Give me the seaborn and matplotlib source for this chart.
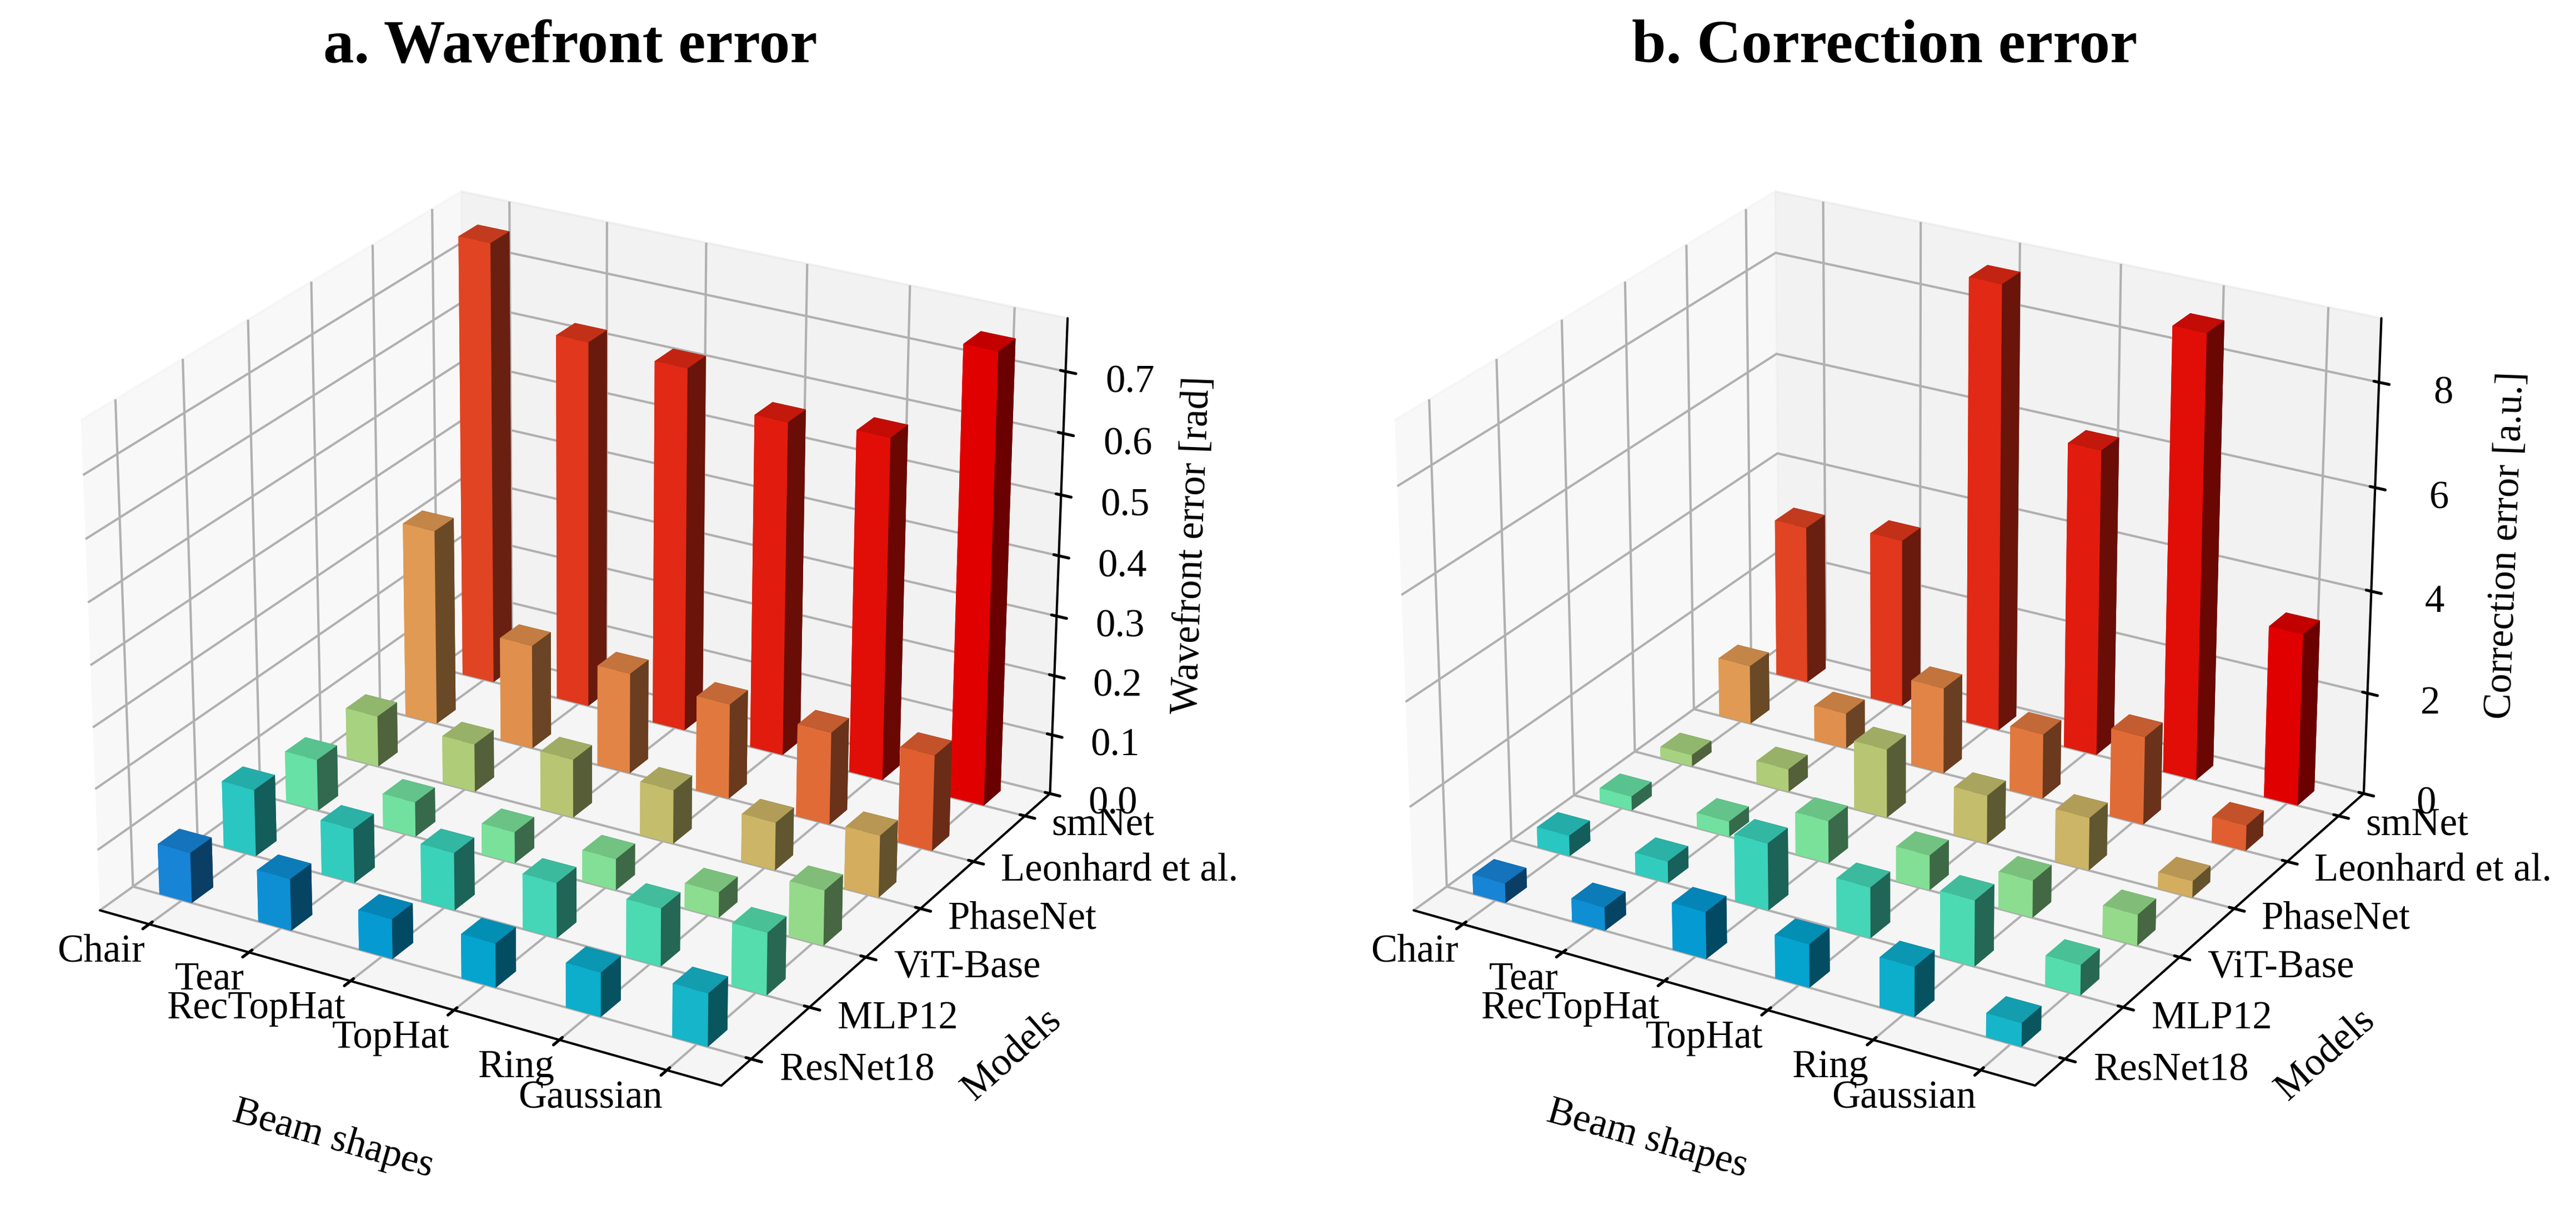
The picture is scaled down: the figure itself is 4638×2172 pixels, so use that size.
import numpy as np
import matplotlib
matplotlib.use('Agg')
import matplotlib.pyplot as plt
import seaborn as sns

sns.set_theme(style='ticks', rc={'axes.grid': True, 'grid.color': '#b0b0b0', 'grid.linewidth': 1.0,
                                 'axes.linewidth': 1.0, 'xtick.color': 'black', 'ytick.color': 'black',
                                 'text.color': 'black', 'axes.labelcolor': 'black', 'axes.edgecolor': 'black'})
plt.rcParams['font.family'] = ['Liberation Serif', 'DejaVu Serif']

shapes = ['Chair', 'Tear', 'RecTopHat', 'TopHat', 'Ring', 'Gaussian']
models = ['ResNet18', 'MLP12', 'ViT-Base', 'PhaseNet', 'Leonhard et al.', 'smNet']

# rows are models, columns are beam shapes
wavefront = [
    [.083, .085, .065, .072, .072, .086],
    [.111, .090, .095, .091, .095, .102],
    [.086, .058, .052, .052, .042, .091],
    [.086, .081, .098, .090, .080, .103],
    [.331, .176, .170, .160, .155, .160],
    [.749, .620, .613, .561, .573, .749],
]
correction = [
    [.38, .45, .90, .83, .95, .45],
    [.40, .42, 1.30, .98, 1.27, .58],
    [.28, .30, .83, .68, .72, .60],
    [.23, .45, 1.35, .95, 1.03, .32],
    [1.17, .70, 1.70, 1.28, 1.73, .50],
    [3.15, 3.35, 8.80, 6.03, 8.70, 3.38],
]
wave_ticks = [0, .1, .2, .3, .4, .5, .6, .7]
corr_ticks = [0, 2, 4, 6, 8]

cmap = sns.color_palette('rainbow', as_cmap=True)
FS = 17
BAR = 0.33


def draw_panel(fig, rect, values, zticks, zfmt, zlim, zlabel):
    ax = fig.add_axes(rect, projection='3d')
    ax.computed_zorder = False
    ax.set_box_aspect((4.15, 4.15, 3.12))
    vals = np.array(values)
    # draw far bars first so near bars cover them
    for j in range(len(models) - 1, -1, -1):
        for i in range(len(shapes)):
            col = cmap(0.2 + 0.14 * j + 0.02 * i)
            ax.bar3d(i - 0.23, j, 0, BAR, BAR, vals[j, i], color=col, edgecolor='none', linewidth=0)
    ax.set_xticks(np.arange(len(shapes)))
    ax.set_xticklabels(shapes, fontsize=FS, ha='right', va='top')
    ax.set_yticks(np.arange(len(models)))
    ax.set_yticklabels(models, fontsize=FS, ha='left', va='bottom')
    ax.set_zticks(zticks)
    ax.set_zticklabels([zfmt.format(t) for t in zticks], fontsize=FS)
    ax.tick_params(axis='x', pad=-5)
    ax.tick_params(axis='y', pad=3)
    ax.tick_params(axis='z', pad=9)
    ax.set_xlim(-0.5, 5.5)
    ax.set_ylim(-0.5, 5.5)
    ax.set_zlim(*zlim)
    ax.set_xlabel('Beam shapes', fontsize=FS, labelpad=24)
    ax.set_ylabel('Models', fontsize=FS, labelpad=26)
    ax.set_zlabel(zlabel, fontsize=FS, labelpad=15)
    ax.view_init(elev=25, azim=-60)
    return ax


fig = plt.figure(figsize=(15.46, 7.24), dpi=300)
draw_panel(fig, [-0.005, 0.022, 0.452, 0.913], wavefront, wave_ticks, '{:.1f}', (0, .785), 'Wavefront error [rad]')
draw_panel(fig, [0.505, 0.022, 0.452, 0.913], correction, corr_ticks, '{:.0f}', (0, 9.2), 'Correction error [a.u.]')
fig.text(0.2213, 0.961, 'a. Wavefront error', ha='center', va='center', fontsize=26.6, fontweight='bold')
fig.text(0.7315, 0.961, 'b. Correction error', ha='center', va='center', fontsize=26.6, fontweight='bold')
fig.savefig('out.png', dpi=300)
